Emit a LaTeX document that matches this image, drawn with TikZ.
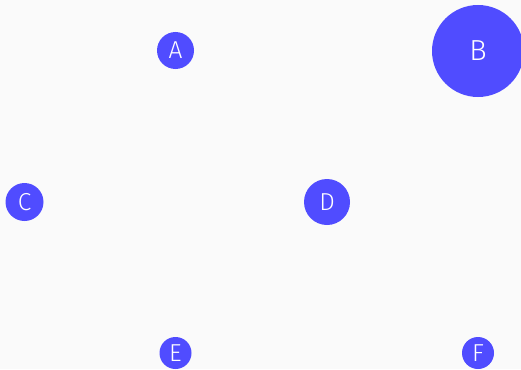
\documentclass[tikz,border=0pt]{standalone}
\usepackage{fontspec}
\setsansfont{Fira Sans}[UprightFont=* Light]
\usepackage{tikz}
\definecolor{nblue}{RGB}{80,76,255}
\definecolor{bgrey}{RGB}{250,250,250}
\begin{document}
\begin{tikzpicture}[x=1pt,y=-1pt,
  dot/.style={circle,fill=nblue,text=white,inner sep=0pt,font=\sffamily\fontsize{24.5}{24.5}\selectfont}]
\useasboundingbox[fill=bgrey] (0,0) rectangle (521,369);
\node[dot,minimum size=37pt] (a) at (175.5,50.5) {A};
\node[dot,minimum size=92pt,font=\sffamily\fontsize{29}{29}\selectfont] (b) at (478,51) {B};
\node[dot,minimum size=38pt] (c) at (24.5,202) {C};
\node[dot,minimum size=46pt] (d) at (327,202) {D};
\node[dot,minimum size=32pt] (e) at (175.5,353) {E};
\node[dot,minimum size=32pt] (f) at (478,353) {F};
\end{tikzpicture}
\end{document}
